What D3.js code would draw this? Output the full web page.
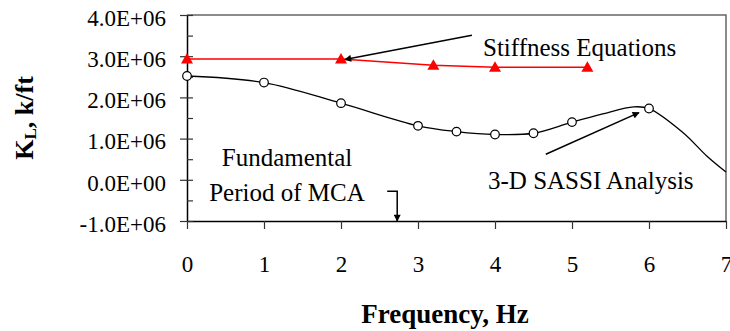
<!DOCTYPE html>
<html>
<head>
<meta charset="utf-8">
<script src="https://cdn.jsdelivr.net/npm/d3@7"></script>
<style>
  html, body { margin: 0; padding: 0; background: #fff; }
  svg { display: block; }
  svg text { font-family: "Liberation Serif", "Times New Roman", serif; }
</style>
</head>
<body>
<svg id="chart" width="730" height="331"></svg>
<script>
// Lateral stiffness K_L versus frequency

// Stiffness equations (red triangles)
const eqFreq = [0, 2, 3.2, 4, 5.2];
const eqK    = [2.93e6, 2.93e6, 2.78e6, 2.73e6, 2.73e6];

// 3-D SASSI analysis curve (smoothed line)
const sassiFreq = [0, 1, 2, 3, 3.5, 4, 4.5, 5, 5.4, 5.8, 6, 6.44, 6.75, 7.0];
const sassiK    = [2.52e6, 2.36e6, 1.86e6, 1.31e6, 1.17e6, 1.10e6, 1.13e6, 1.40e6,
                   1.60e6, 1.77e6, 1.73e6, 1.15e6, 0.58e6, 0.19e6];
// frequencies carrying an open-circle marker
const sassiMarkedFreq = [0, 1, 2, 3, 3.5, 4, 4.5, 5, 6];

// Axis ticks
const xTicks = [0, 1, 2, 3, 4, 5, 6, 7];
const yTicks = [-1e6, 0, 1e6, 2e6, 3e6, 4e6];
const yTickLabels = ["-1.0E+06", "0.0E+00", "1.0E+06", "2.0E+06", "3.0E+06", "4.0E+06"];
const yMinorTicks = [-0.5e6, 0.5e6, 1.5e6, 2.5e6, 3.5e6];

// Annotation anchors, in data units [freq, K]
const eqArrow    = [[3.70, 3.51e6], [2.05, 2.92e6]];
const sassiArrow = [[4.66, 0.62e6], [5.87, 1.63e6]];
const mcaArrow   = [[2.60, -0.28e6], [2.73, -0.28e6], [2.73, -1.0e6]];

const serif = "'Liberation Serif', 'Times New Roman', serif";
const svg = d3.select("#chart");
const plotLeft = 187, plotRight = 726, plotTop = 15, plotBottom = 221;

const x = d3.scaleLinear().domain([0, 7]).range([plotLeft, plotRight]);
const y = d3.scaleLinear().domain([-1e6, 4e6]).range([plotBottom, plotTop]);

const defs = svg.append("defs");
// arrowhead marker
defs.append("marker")
  .attr("id", "head")
  .attr("viewBox", "0 0 10 10")
  .attr("refX", 9).attr("refY", 5)
  .attr("markerWidth", 9).attr("markerHeight", 7)
  .attr("markerUnits", "userSpaceOnUse")
  .attr("orient", "auto")
  .append("path").attr("d", "M0,0 L10,5 L0,10 Z").attr("fill", "#000");

defs.append("clipPath").attr("id", "plotClip")
  .append("rect").attr("x", plotLeft).attr("y", plotTop)
  .attr("width", plotRight - plotLeft + 2).attr("height", plotBottom - plotTop);

// frame (top and right edges)
svg.append("path")
  .attr("d", `M${plotLeft},${plotTop} H${plotRight} V${plotBottom}`)
  .attr("fill", "none").attr("stroke", "#666").attr("stroke-width", 1.5);

// x axis
const xAxis = svg.append("g")
  .attr("transform", `translate(0,${plotBottom})`)
  .call(d3.axisBottom(x).tickValues(xTicks).tickSize(8).tickSizeOuter(0).tickFormat(d3.format("d")));
xAxis.attr("font-family", null).attr("font-size", null);
xAxis.select(".domain").attr("stroke", "#000").attr("stroke-width", 1.5);
xAxis.selectAll(".tick line").attr("stroke", "#333").attr("stroke-width", 1.2);
xAxis.selectAll(".tick text")
  .attr("y", 51).attr("dy", null)
  .style("font-family", serif).style("font-size", "23px").attr("fill", "#000");

// y axis: major ticks cross the axis, minor ticks point inward
const yAxis = svg.append("g")
  .attr("transform", `translate(${plotLeft},0)`)
  .call(d3.axisLeft(y).tickValues(yTicks).tickSizeOuter(0)
    .tickFormat((d, i) => yTickLabels[i]));
yAxis.attr("font-family", null).attr("font-size", null);
yAxis.select(".domain").attr("stroke", "#000").attr("stroke-width", 1.5);
yAxis.selectAll(".tick line").attr("x1", -7).attr("x2", 6)
  .attr("stroke", "#333").attr("stroke-width", 1.2);
yAxis.selectAll(".tick text")
  .attr("x", -21).attr("dy", "0.45em")
  .style("font-family", serif).style("font-size", "23px").attr("fill", "#000");

svg.append("g")
  .attr("transform", `translate(${plotLeft},0)`)
  .call(d3.axisLeft(y).tickValues(yMinorTicks).tickSize(-6).tickFormat(""))
  .call(g => g.select(".domain").remove())
  .selectAll(".tick line").attr("stroke", "#333").attr("stroke-width", 1.2);

// axis titles
svg.append("text")
  .attr("x", 445).attr("y", 323)
  .attr("text-anchor", "middle")
  .style("font-size", "27px").attr("font-weight", "bold")
  .text("Frequency, Hz");

const yTitle = svg.append("text")
  .attr("transform", "translate(33,118) rotate(-90)")
  .attr("text-anchor", "middle")
  .style("font-size", "26px").attr("font-weight", "bold");
yTitle.append("tspan").text("K");
yTitle.append("tspan").style("font-size", "17px").attr("dy", 3).text("L");
yTitle.append("tspan").attr("dy", -3).text(", k/ft");

// SASSI curve
const plot = svg.append("g").attr("clip-path", "url(#plotClip)");
const sassiPts = sassiFreq.map((f, i) => [f, sassiK[i]]);
plot.append("path")
  .datum(sassiPts)
  .attr("fill", "none").attr("stroke", "#000").attr("stroke-width", 1.3)
  .attr("d", d3.line().x(d => x(d[0])).y(d => y(d[1])).curve(d3.curveCatmullRom.alpha(0.5)));

svg.append("g").selectAll("circle")
  .data(sassiPts.filter(d => sassiMarkedFreq.includes(d[0])))
  .join("circle")
  .attr("cx", d => x(d[0])).attr("cy", d => y(d[1]))
  .attr("r", 4.3)
  .attr("fill", "#fff").attr("stroke", "#000").attr("stroke-width", 1.2);

// stiffness equations line
const eqPts = eqFreq.map((f, i) => [f, eqK[i]]);
svg.append("path")
  .datum(eqPts)
  .attr("fill", "none").attr("stroke", "#ff0000").attr("stroke-width", 1.5)
  .attr("d", d3.line().x(d => x(d[0])).y(d => y(d[1])));

svg.append("g").selectAll("path")
  .data(eqPts)
  .join("path")
  .attr("transform", d => `translate(${x(d[0])},${y(d[1])})`)
  .attr("d", "M0,-6 L6,4.5 L-6,4.5 Z")
  .attr("fill", "#ff0000");

// annotations
const pathLine = d3.line().x(d => x(d[0])).y(d => y(d[1]));
[eqArrow, sassiArrow, mcaArrow].forEach(pts => {
  svg.append("path")
    .attr("d", pathLine(pts))
    .attr("fill", "none").attr("stroke", "#000").attr("stroke-width", 1.5)
    .attr("marker-end", "url(#head)");
});

const note = (tx, ty, str, anchor) => svg.append("text")
  .attr("x", tx).attr("y", ty)
  .attr("text-anchor", anchor || "start")
  .style("font-size", "25px").attr("fill", "#000")
  .text(str);

note(483, 56, "Stiffness Equations");
note(488, 189, "3-D SASSI Analysis");
note(287, 166, "Fundamental", "middle");
note(287, 201, "Period of MCA", "middle");
</script>
</body>
</html>
